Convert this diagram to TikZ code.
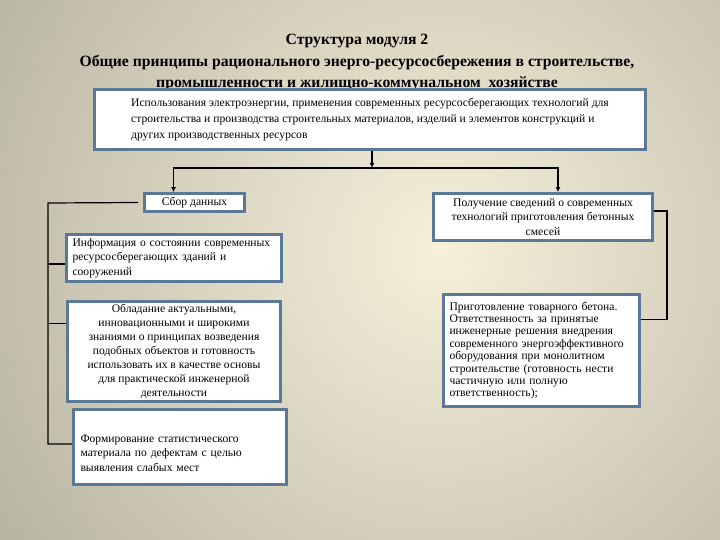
\documentclass[tikz,border=0pt]{standalone}
\usepackage{fontspec}
\setmainfont{Liberation Serif}
\usetikzlibrary{arrows.meta}
\definecolor{boxedge}{HTML}{5B7896}
\definecolor{bginner}{HTML}{F6F0DA}
\definecolor{bgouter}{HTML}{8C8A7C}

\begin{document}
\begin{tikzpicture}[x=1pt, y=-1pt,
    block/.style={draw=boxedge, line width=2.8pt, fill=white, inner xsep=6pt, inner ysep=2pt,
      font=\fontsize{11.6}{14.6}\selectfont},
    link/.style={line width=1.2pt},
    arr/.style={line width=1.6pt, -{Latex[length=5pt,width=5pt]}}]
    \useasboundingbox (0,0) rectangle (720,540);
    \begin{scope}
      \clip (0,0) rectangle (720,540);
      \shade[inner color=bginner, outer color=bgouter] (440,250) circle (900pt);
    \end{scope}

    \node[align=center, anchor=north, inner sep=0pt, font=\fontsize{15.7}{21.5}\selectfont\bfseries] (title) at (357,34)
      {Структура модуля 2\\Общие принципы рационального энерго-ресурсосбережения в строительстве,\\промышленности и жилищно-коммунальном\ \ хозяйстве};

    \node[block, minimum width=551pt, minimum height=60pt, align=left, font=\fontsize{11.6}{16}\selectfont] (source) at (370,119.5)
      {Использования электроэнергии, применения современных ресурсосберегающих технологий для\\
       строительства и производства строительных материалов, изделий и элементов конструкций и\\
       других производственных ресурсов};

    \node[block, minimum width=100pt, minimum height=18pt] (collect) at (194.5,202.5) {Сбор данных};
    \node[block, minimum width=219pt, minimum height=47pt, align=center] (prepare) at (543,217)
      {Получение сведений о современных\\технологий приготовления бетонных\\смесей};

    \node[block, minimum width=213pt, minimum height=47pt, text width=203pt, align=left] (info) at (174,258)
      {Информация о состоянии современных\\ресурсосберегающих зданий и\\сооружений};
    \node[block, minimum width=213pt, minimum height=100pt, align=center, font=\fontsize{11.6}{14}\selectfont] (know) at (174,351.5)
      {Обладание актуальными,\\инновационными и широкими\\знаниями о принципах возведения\\подобных объектов и готовность\\использовать их в качестве основы\\для практической инженерной\\деятельности};
    \node[block, minimum width=213pt, minimum height=75pt, text width=199pt, align=left, inner ysep=0pt] (form) at (180,447)
      {\rule{0pt}{20pt}Формирование статистического\\материала по дефектам с целью\\выявления слабых мест};
    \node[block, minimum width=196pt, minimum height=112pt, text width=184pt, align=left, font=\fontsize{11.6}{12.4}\selectfont] (ready) at (541.5,350.5)
      {Приготовление товарного бетона.\\Ответственность за принятые\\инженерные решения внедрения\\современного энергоэффективного\\оборудования при монолитном\\строительстве (готовность нести\\частичную или полную\\ответственность);};

    \draw[arr] ([xshift=2pt]source.south) -- ++(0,17) coordinate (fork);
    \coordinate (lefttip) at ([xshift=-21pt]collect.north);
    \coordinate (righttip) at ([xshift=15pt]prepare.north);
    \draw[arr] (fork) -| (lefttip);
    \draw[arr] (fork) -| (righttip);

    \coordinate (bus) at (48,203);
    \coordinate (infojoin) at ([yshift=-6pt]info.west);
    \coordinate (knowjoin) at ([yshift=28pt]know.west);
    \draw[link] ([xshift=-5pt]collect.west) -- (bus) |- ([yshift=3pt]form.west);
    \draw[link] (bus |- infojoin) -- (infojoin);
    \draw[link] (bus |- knowjoin) -- (knowjoin);

    \draw[link] ([yshift=6pt]prepare.east) -- ++(13,0) |- ([yshift=31pt]ready.east);
\end{tikzpicture}
\end{document}
